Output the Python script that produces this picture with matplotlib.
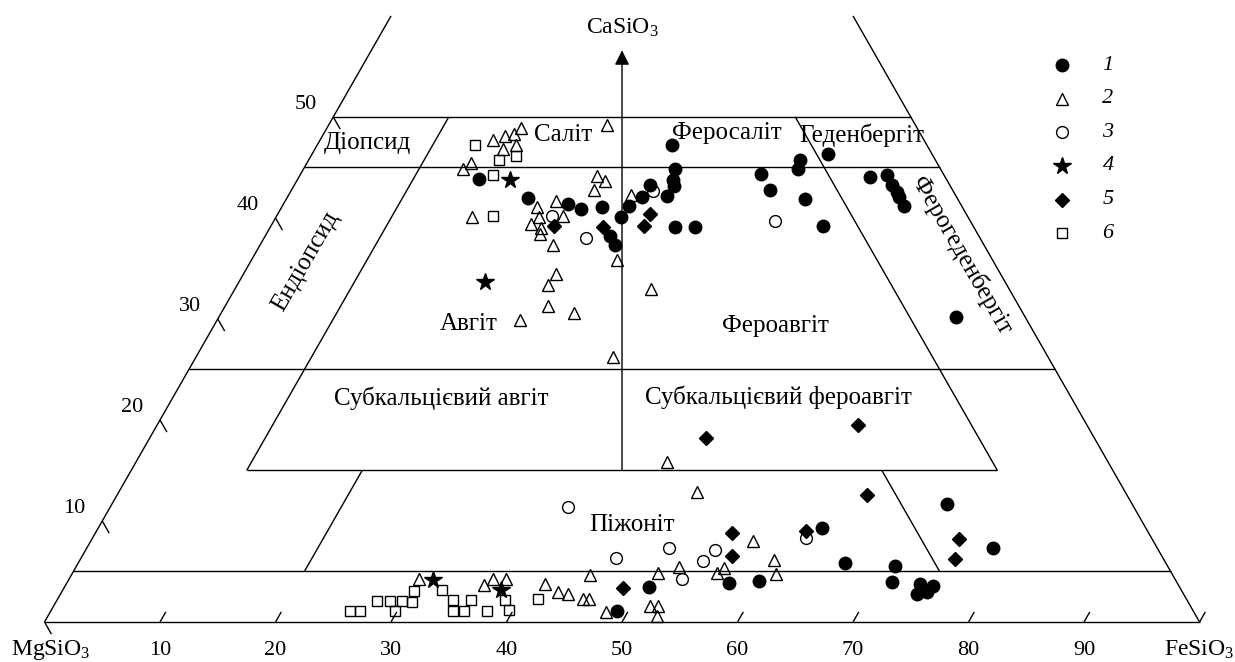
import matplotlib
matplotlib.use("Agg")
import matplotlib.pyplot as plt
import numpy as np

plt.rcParams['font.family'] = ['Liberation Serif', 'DejaVu Serif']
plt.rcParams['mathtext.fontset'] = 'custom'
plt.rcParams['mathtext.rm'] = 'Liberation Serif'
plt.rcParams['mathtext.it'] = 'Liberation Serif:italic'

# pyroxene compositions, mol.%: Fs (FeSiO3) and Wo (CaSiO3), En = 100 - Fs - Wo
fs_1 = [15.7, 20.9, 24.6, 26.0, 27.7, 29.9, 30.0, 29.9, 30.7, 30.7, 30.8, 32.8, 30.7, 32.2, 32.5, 32.9, 35.0, 36.8,
        39.8, 41.4, 42.8, 42.6, 44.9, 47.8, 44.7, 49.4, 50.8, 51.7, 52.5, 52.9, 53.8, 63.8,
        62.7, 66.4, 70.9, 71.4, 73.9, 75.1, 74.1, 74.9, 72.3, 78.5, 57.3, 59.8, 50.6, 49.0]
wo_1 = [43.9, 42.0, 41.4, 40.9, 41.1, 40.1, 41.2, 38.2, 37.3, 42.1, 43.3, 42.2, 47.2, 44.8, 43.8, 43.2, 39.1, 39.1,
        44.4, 42.8, 44.8, 45.7, 41.9, 39.2, 46.3, 44.1, 44.3, 43.3, 42.6, 42.1, 41.2, 30.2,
        9.3, 5.8, 5.5, 4.0, 3.8, 3.6, 2.8, 3.0, 11.7, 7.3, 3.9, 4.1, 3.5, 1.1]

fs_2 = [16.8, 16.5, 15.8, 15.0, 17.2, 16.3, 24.1, 14.2, 13.8, 25.7, 26.7, 26.2, 29.6, 23.4, 22.1,
        22.8, 24.8, 22.4, 23.5, 23.7, 25.4, 17.0, 31.7, 27.0, 26.9, 27.9, 30.5, 26.2, 36.0, 36.1,
        46.0, 50.0, 57.3, 50.7, 52.2, 55.8, 56.2, 60.1, 60.9, 51.6, 52.3, 52.7, 48.1,
        30.3, 36.2, 36.7, 37.8, 41.4, 43.0, 43.9, 45.5, 46.0, 44.9]
wo_2 = [48.9, 48.3, 48.1, 47.7, 47.2, 46.8, 49.2, 45.4, 44.8, 44.2, 43.7, 42.8, 42.3, 41.7, 41.1,
        40.1, 40.2, 39.4, 39.0, 38.4, 37.3, 40.1, 35.8, 34.5, 33.4, 31.3, 30.6, 29.9, 33.0, 26.2,
        15.8, 12.9, 8.0, 4.9, 5.4, 4.9, 5.3, 6.1, 4.8, 1.6, 1.6, 0.6, 1.0,
        4.3, 3.7, 4.3, 4.3, 3.8, 3.0, 2.8, 2.3, 2.3, 4.7]

fs_3 = [23.8, 27.9, 31.3, 43.4, 39.6, 46.3, 50.4, 54.5, 54.0, 53.0, 61.8]
wo_3 = [40.2, 38.0, 42.7, 39.7, 11.4, 6.3, 7.3, 7.1, 6.0, 4.3, 8.3]

fs_4 = [18.4, 21.3, 31.5, 37.9]
wo_4 = [43.8, 33.7, 4.2, 3.2]

fs_5 = [24.5, 28.8, 32.2, 32.3, 48.2, 60.7, 64.9, 55.1, 56.3, 61.4, 75.1, 75.7, 48.4]
wo_5 = [39.2, 39.1, 40.4, 39.2, 18.2, 19.5, 12.6, 8.8, 6.5, 9.0, 8.2, 6.2, 3.4]

fs_6 = [13.7, 16.5, 17.8, 16.7, 18.7, 25.9, 26.8, 27.7, 28.9, 29.9, 30.8, 30.4, 29.8, 32.8,
        34.3, 35.8, 34.8, 35.8, 37.8, 38.8, 39.6, 41.6]
wo_6 = [47.2, 45.7, 46.1, 44.3, 40.2, 1.1, 1.1, 2.1, 2.1, 2.1, 2.0, 3.1, 1.1, 3.2,
        2.2, 2.2, 1.1, 1.1, 1.1, 2.2, 1.2, 2.3]

legend_labels = ['1', '2', '3', '4', '5', '6']
bottom_ticks = [10, 20, 30, 40, 50, 60, 70, 80, 90]
left_ticks = [10, 20, 30, 40, 50]


def xy(fs, wo):
    fs = np.asarray(fs, float)
    wo = np.asarray(wo, float)
    return fs + wo / 2.0, wo


fig = plt.figure(figsize=(12.35, 6.62), dpi=100)
ax = fig.add_axes([0, 0, 1, 1])
ax.set_xlim(-3.853, 103.07)
ax.set_ylim(-3.96, 61.58)
ax.axis('off')


def seg(fs_a, wo_a, fs_b, wo_b):
    x, y = xy([fs_a, fs_b], [wo_a, wo_b])
    ax.plot(x, y, color='k', lw=1.0, solid_capstyle='butt')


top = 60
seg(0, 0, 0, top)
seg(100, 0, 100 - top, top)
for w in [0, 5, 25, 45, 50]:
    seg(0, w, 100 - w, w)
seg(10, 15, 75, 15)
seg(10, 15, 10, 50)   # Fs = 10
seg(75, 15, 40, 50)   # En = 10
seg(20, 5, 20, 15)    # Fs = 20
seg(75, 5, 65, 15)    # En = 20

ax.annotate('', xy=(50, 56.6), xytext=(50, 15),
            arrowprops=dict(arrowstyle='-|>', color='k', lw=1.0, mutation_scale=22,
                            shrinkA=0, shrinkB=0))

# ticks
for n in bottom_ticks + [100]:
    seg(n, 0, n, 1.0)
for n in [0] + left_ticks:
    seg(0, n, 1.2, n - 1.2)

fs_num = 16
for n in bottom_ticks:
    ax.text(n, -2.8, str(n), ha='center', va='center', fontsize=fs_num)
for n in left_ticks:
    ax.text(n / 2 - 2.4, n + 1.2, str(n), ha='center', va='center', fontsize=fs_num)

ax.text(0.5, -2.8, 'MgSiO$_3$', ha='center', va='center', fontsize=17)
ax.text(100, -2.8, 'FeSiO$_3$', ha='center', va='center', fontsize=17)
ax.text(50, 58.8, 'CaSiO$_3$', ha='center', va='center', fontsize=17)

fs_txt = 18
labels = [
    ('Діопсид', 27.97, 47.4, 0),
    ('Саліт', 44.9, 48.2, 0),
    ('Феросаліт', 59.06, 48.4, 0),
    ('Геденбергіт', 70.75, 48.2, 0),
    ('Ендіопсид', 22.62, 35.67, 60),
    ('Ферогеденбергіт', 79.44, 36.34, -60),
    ('Авгіт', 36.7, 29.5, 0),
    ('Фероавгіт', 63.3, 29.3, 0),
    ('Субкальцієвий авгіт', 34.33, 22.18, 0),
    ('Субкальцієвий фероавгіт', 63.5, 22.28, 0),
    ('Піжоніт', 50.9, 9.6, 0),
]
for t, x, y, r in labels:
    ax.text(x, y, t, ha='center', va='center', fontsize=fs_txt, rotation=r,
            rotation_mode='anchor')

styles = {
    '1': dict(marker='o', ms=9, mfc='k', mec='k'),
    '2': dict(marker='^', ms=9, mfc='none', mec='k', mew=1.0),
    '3': dict(marker='o', ms=8.5, mfc='none', mec='k', mew=1.0),
    '4': dict(marker='*', ms=13, mfc='k', mec='k'),
    '5': dict(marker='D', ms=7, mfc='k', mec='k'),
    '6': dict(marker='s', ms=7, mfc='none', mec='k', mew=1.0),
}
series = {'1': (fs_1, wo_1), '2': (fs_2, wo_2), '3': (fs_3, wo_3),
          '4': (fs_4, wo_4), '5': (fs_5, wo_5), '6': (fs_6, wo_6)}

for key in ['2', '6', '3', '1', '5', '4']:
    fs, wo = series[key]
    x, y = xy(fs, wo)
    ax.plot(x, y, linestyle='none', **styles[key])

# legend
for i, lab in enumerate(legend_labels):
    ly = 0.9018 - i * 0.0508
    ax.plot([0.8597], [ly], linestyle='none', transform=ax.transAxes, clip_on=False, **styles[lab])
    ax.text(0.8972, ly, lab, transform=ax.transAxes, ha='center', va='center',
            fontsize=fs_num, style='italic')

fig.savefig('out.png', dpi=100)
